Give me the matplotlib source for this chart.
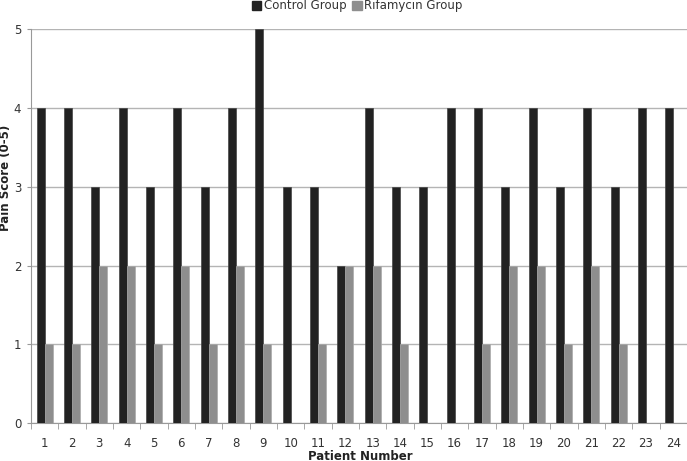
import numpy as np
import matplotlib
matplotlib.use('Agg')
import matplotlib.pyplot as plt
from matplotlib.patches import Patch

patients = [str(i) for i in range(1, 25)]
control = [4, 4, 3, 4, 3, 4, 3, 4, 5, 3, 3, 2, 4, 3, 3, 4, 4, 3, 4, 3, 4, 3, 4, 4]
rifamycin = [1, 1, 2, 2, 1, 2, 1, 2, 1, 0, 1, 2, 2, 1, 0, 0, 1, 2, 2, 1, 2, 1, 0, 0]

dark = '#222222'
light = '#8e8e8e'

plt.rcParams['font.family'] = ['DejaVu Sans']

fig = plt.figure(figsize=(6.87, 4.61), dpi=100)
ax = fig.add_axes([31 / 687, 1 - 423 / 461, 656 / 687, (423 - 29.5) / 461])

x = np.arange(len(patients))
w = 0.293
ax.bar(x - w / 2, control, w, color=dark, edgecolor='#444444', linewidth=0.5, zorder=3)
ax.bar(x + w / 2, rifamycin, w, color=light, edgecolor='#aaaaaa', linewidth=0.5, zorder=3)

ax.set_xlim(-0.5, len(patients) - 0.5)
ax.set_ylim(0, 5)
ax.set_yticks(range(6))
ax.yaxis.grid(True, color='#b4b4b4', linewidth=1, zorder=0)
ax.set_axisbelow(True)

# category labels in the middle, tick marks at the boundaries
ax.set_xticks(x)
ax.set_xticklabels(patients, fontsize=8.5, color='#333333')
ax.tick_params(axis='x', length=0, pad=10)
ax.set_xticks(np.arange(len(patients) + 1) - 0.5, minor=True)
ax.tick_params(axis='x', which='minor', length=4, color='#999999', direction='out')
ax.tick_params(axis='y', length=3, color='#999999', labelsize=8.5, labelcolor='#333333', pad=4)

for side in ['top', 'right']:
    ax.spines[side].set_visible(False)
ax.spines['left'].set_color('#999999')
ax.spines['bottom'].set_color('#999999')

fig.text(360 / 687, 1 - 456 / 461, 'Patient Number', fontsize=8.5, fontweight='bold',
         color='#222222', ha='center', va='center')
fig.text(6 / 687, 1 - 178 / 461, 'Pain Score (0-5)', fontsize=8.5, fontweight='bold',
         color='#222222', ha='center', va='center', rotation=90)

handles = [Patch(facecolor=dark, edgecolor=dark), Patch(facecolor=light, edgecolor=light)]
fig.legend(handles, ['Control Group', 'Rifamycin Group'], loc='center',
           bbox_to_anchor=(357 / 687, 1 - 6 / 461), ncol=2, frameon=False, fontsize=8.5,
           handlelength=0.8, handleheight=0.8, handletextpad=0.2, columnspacing=0.5,
           labelcolor='#333333', borderpad=0)

fig.savefig('out.png', dpi=100)
